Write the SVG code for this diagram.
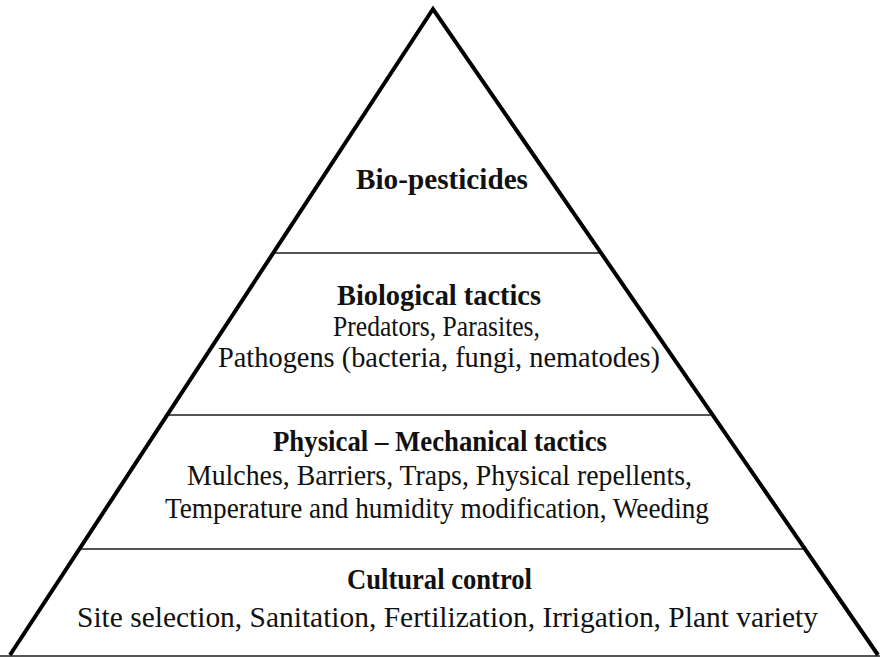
<svg xmlns="http://www.w3.org/2000/svg" width="880" height="657" viewBox="0 0 880 657">
<style>
.h{font-size:29px;font-weight:bold}
.b{font-size:30px}
text{fill:#111;text-anchor:middle}
.div{stroke:#555;stroke-width:2;fill:none}
</style>
<rect width="880" height="657" fill="#fff"/>
<g id="connectors">
<line class="div" x1="273" y1="253" x2="601" y2="253"/>
<line class="div" x1="167" y1="415" x2="713" y2="415"/>
<line class="div" x1="79" y1="549" x2="805" y2="549"/>
<line class="div" x1="0" y1="656" x2="880" y2="656"/>
</g>
<g id="pyramid">
<polyline points="10,655 433,9 878,655" fill="none" stroke="#000" stroke-width="4"/>
</g>
<g id="bio-pesticides" font-family="Liberation Serif, serif">
<text class="h" x="442" y="189" textLength="172" lengthAdjust="spacingAndGlyphs">Bio-pesticides</text>
</g>
<g id="biological" font-family="Liberation Serif, serif">
<text class="h" x="439" y="305" textLength="204" lengthAdjust="spacingAndGlyphs">Biological tactics</text>
<text class="b" x="436.5" y="336" textLength="207" lengthAdjust="spacingAndGlyphs">Predators, Parasites,</text>
<text class="b" x="439" y="367" textLength="442" lengthAdjust="spacingAndGlyphs">Pathogens (bacteria, fungi, nematodes)</text>
</g>
<g id="physical" font-family="Liberation Serif, serif">
<text class="h" x="440" y="451" textLength="334" lengthAdjust="spacingAndGlyphs">Physical – Mechanical tactics</text>
<text class="b" x="439.5" y="485" textLength="505" lengthAdjust="spacingAndGlyphs">Mulches, Barriers, Traps, Physical repellents,</text>
<text class="b" x="437" y="518" textLength="544" lengthAdjust="spacingAndGlyphs">Temperature and humidity modification, Weeding</text>
</g>
<g id="cultural" font-family="Liberation Serif, serif">
<text class="h" x="439.5" y="589" textLength="185" lengthAdjust="spacingAndGlyphs">Cultural control</text>
<text class="b" x="447.5" y="627" textLength="741" lengthAdjust="spacingAndGlyphs">Site selection, Sanitation, Fertilization, Irrigation, Plant variety</text>
</g>
</svg>
